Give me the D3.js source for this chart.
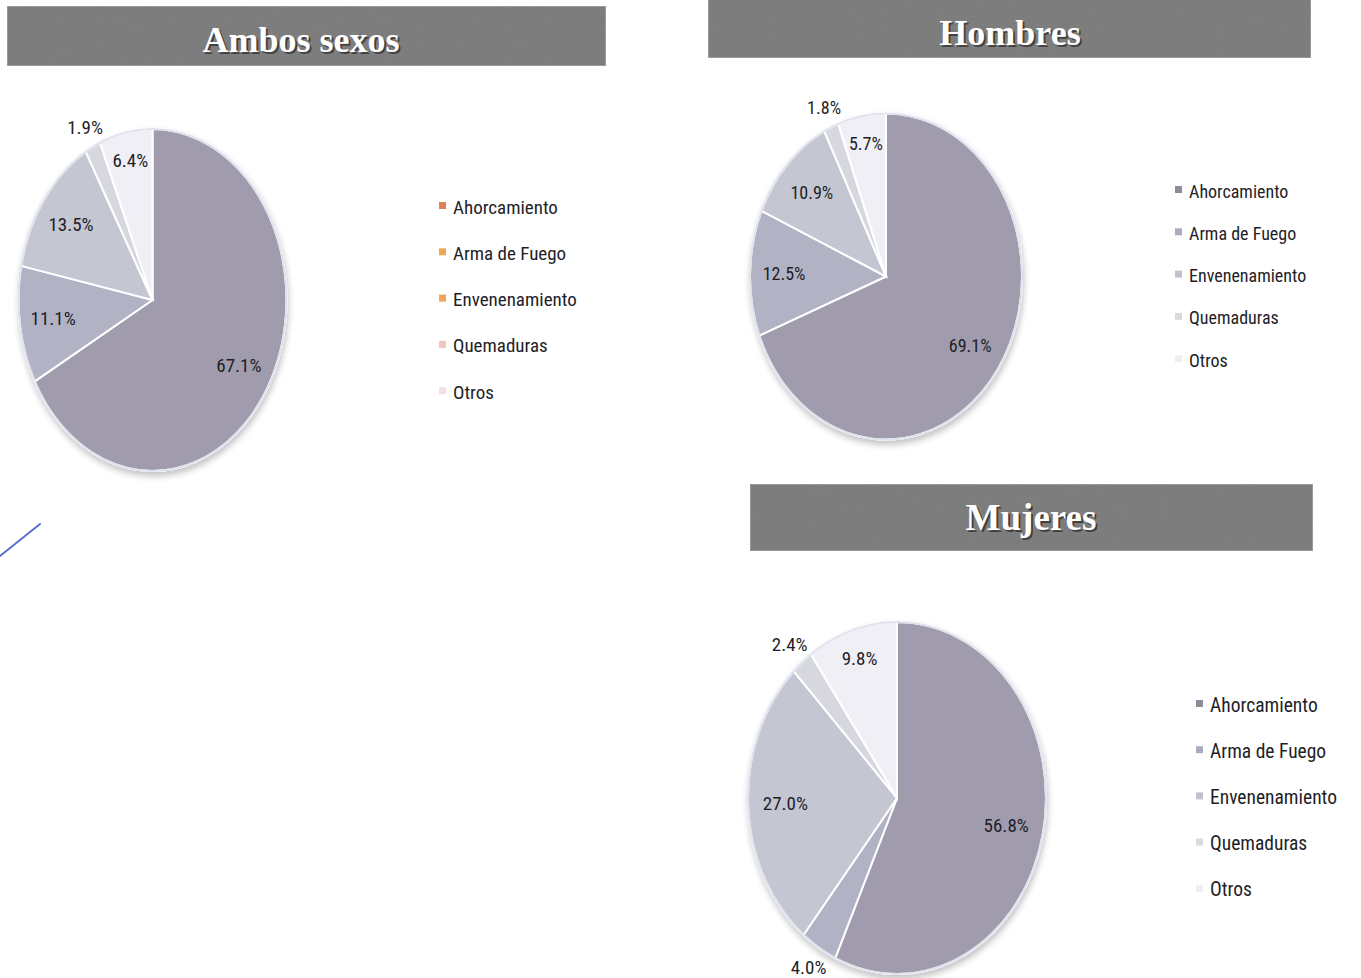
<!DOCTYPE html>
<html>
<head>
<meta charset="utf-8">
<script src="https://cdn.jsdelivr.net/npm/d3@7/dist/d3.min.js"></script>
<style>
html,body{margin:0;padding:0;background:#fff;}
svg{display:block;}
</style>
</head>
<body>
<svg id="chart" width="1361" height="978"></svg>
<script>
const categories = ["Ahorcamiento", "Arma de Fuego", "Envenenamiento", "Quemaduras", "Otros"];
const ambosValues = [67.1, 11.1, 13.5, 1.9, 6.4];
const hombresValues = [69.1, 12.5, 10.9, 1.8, 5.7];
const mujeresValues = [56.8, 4.0, 27.0, 2.4, 9.8];
const titles = ["Ambos sexos", "Hombres", "Mujeres"];

const sliceColors = ["#a09cad", "#b1b3c5", "#c4c6d2", "#d7d8df", "#efeff5"];
const legendColorsAmbos = ["#e07f55", "#f2a457", "#f2a457", "#f1c5bf", "#f6dee3"];
const legendColorsGrey = ["#8f8b9d", "#a9acbe", "#c0c2ce", "#d9dadf", "#efeff3"];

const svg = d3.select("#chart");
const labelFont = "'Liberation Sans Narrow','Roboto Condensed',Roboto,'Open Sans',sans-serif";

const defs = svg.append("defs");
const f = defs.append("filter").attr("id","noise").attr("x",0).attr("y",0).attr("width","100%").attr("height","100%");
f.append("feTurbulence").attr("type","fractalNoise").attr("baseFrequency",0.9).attr("numOctaves",2).attr("result","n");
f.append("feColorMatrix").attr("in","n").attr("type","matrix")
  .attr("values","0 0 0 0 0.45  0 0 0 0 0.45  0 0 0 0 0.45  0 0 0 0.15 0").attr("result","nc");
f.append("feComposite").attr("in","nc").attr("in2","SourceGraphic").attr("operator","atop");
const sh = defs.append("filter").attr("id","pieShadow").attr("x","-10%").attr("y","-10%").attr("width","120%").attr("height","120%");
sh.append("feGaussianBlur").attr("in","SourceAlpha").attr("stdDeviation",3).attr("result","b");
sh.append("feOffset").attr("in","b").attr("dx",1).attr("dy",3).attr("result","o");
sh.append("feComponentTransfer").attr("in","o").attr("result","o2").append("feFuncA").attr("type","linear").attr("slope",0.25);
const m = sh.append("feMerge"); m.append("feMergeNode").attr("in","o2"); m.append("feMergeNode").attr("in","SourceGraphic");

function titleBar(x, y, w, h, text, fontSize, cxText, baseline) {
  const g = svg.append("g");
  g.append("rect").attr("x", x).attr("y", y).attr("width", w).attr("height", h)
    .attr("fill", "#777777").attr("stroke", "#a0a0a0").attr("stroke-width", 1.5)
    .attr("filter", "url(#noise)");
  g.append("text").attr("x", cxText + 2).attr("y", baseline + 2)
    .attr("text-anchor", "middle").attr("font-family", "'Liberation Serif','DejaVu Serif',serif")
    .attr("font-weight", "bold").attr("font-size", fontSize).attr("fill", "#333333").attr("opacity",0.8).text(text);
  g.append("text").attr("x", cxText).attr("y", baseline)
    .attr("text-anchor", "middle").attr("font-family", "'Liberation Serif','DejaVu Serif',serif")
    .attr("font-weight", "bold").attr("font-size", fontSize).attr("fill", "#ffffff").text(text);
}

function labelRadius(v) {
  return v < 5 ? 1.13 : (v < 10 ? 0.83 : 0.75);
}

function pieChart(values, cx, cy, rx, ry, labelSize) {
  const pie = d3.pie().sort(null).value(d => d)(values);
  const arc = d3.arc().innerRadius(0).outerRadius(rx);
  const k = ry / rx;
  const g = svg.append("g").attr("transform", `translate(${cx},${cy}) scale(1,${k})`);
  const gs = g.append("g").attr("filter","url(#pieShadow)");
  gs.selectAll("path").data(pie).join("path")
    .attr("d", arc)
    .attr("fill", (d, i) => sliceColors[i])
    .attr("stroke", "#ffffff").attr("stroke-width", 2)
    .attr("vector-effect", "non-scaling-stroke");
  g.append("circle").attr("r", rx).attr("fill", "none")
    .attr("stroke", "#dfe3ee").attr("stroke-width", 2).attr("vector-effect", "non-scaling-stroke");
  const fmt = d3.format(".1f");
  svg.append("g").selectAll("text").data(pie).join("text")
    .attr("x", d => cx + Math.sin((d.startAngle + d.endAngle) / 2) * rx * labelRadius(d.data))
    .attr("y", d => cy - Math.cos((d.startAngle + d.endAngle) / 2) * ry * labelRadius(d.data))
    .attr("text-anchor", "middle").attr("dominant-baseline", "central")
    .attr("font-family", labelFont).attr("font-size", labelSize).attr("fill", "#1e1e28")
    .text(d => fmt(d.data) + "%");
}

function legend(x, y0, step, colors, fontSize) {
  const g = svg.append("g");
  const items = g.selectAll("g").data(categories).join("g")
    .attr("transform", (d, i) => `translate(${x},${y0 + i * step})`);
  items.append("rect").attr("x", -14).attr("y", -5).attr("width", 7).attr("height", 7)
    .attr("fill", (d, i) => colors[i]);
  items.append("text").attr("x", 0).attr("y", 0).attr("dominant-baseline", "central")
    .attr("font-family", labelFont).attr("font-size", fontSize).attr("fill", "#1e1e28").text(d => d);
}

titleBar(7, 6, 599, 60, titles[0], 36, 301, 52);
titleBar(708, -2, 603, 60, titles[1], 36, 1010, 45);
titleBar(750, 484, 563, 67, titles[2], 37, 1031, 530);

pieChart(ambosValues, 152.5, 300, 134, 171, 19);
pieChart(hombresValues, 886, 276.5, 136, 163, 18);
pieChart(mujeresValues, 897, 798, 149, 176, 19);

legend(453, 207, 46.3, legendColorsAmbos, 19);
legend(1189, 191, 42.3, legendColorsGrey, 18);
legend(1210, 705, 46.2, legendColorsGrey, 19.5);

svg.append("line").attr("x1", 0).attr("y1", 556).attr("x2", 40).attr("y2", 524)
  .attr("stroke", "#5b6fd2").attr("stroke-width", 2).attr("stroke-linecap", "round");
</script>
</body>
</html>
